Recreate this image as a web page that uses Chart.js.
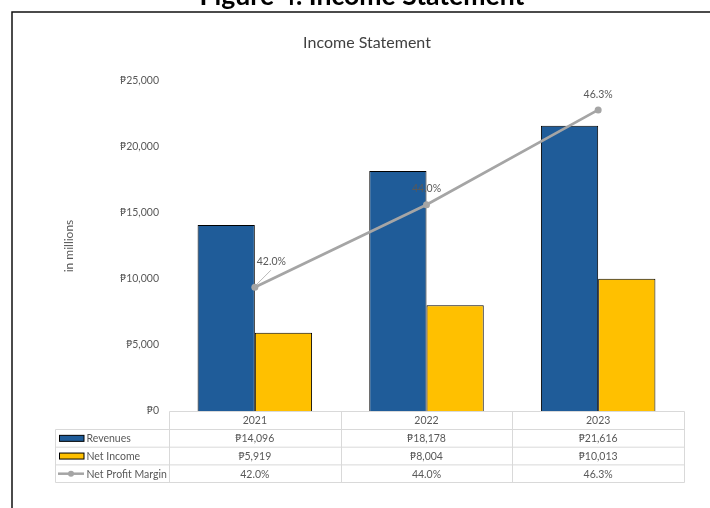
<!DOCTYPE html>
<html>
<head>
<meta charset="utf-8">
<script src="https://cdn.jsdelivr.net/npm/chart.js@4.4.0/dist/chart.umd.min.js"></script>
<style>
html,body{margin:0;padding:0;background:#fff;}
#wrap{width:710px;height:508px;position:relative;overflow:hidden;}
canvas{display:block;}
</style>
</head>
<body>
<div id="wrap"><canvas id="c" width="710" height="508"></canvas></div>
<script>
// ---- data ----
const caption = 'Figure 4. Income Statement';
const chartTitle = 'Income Statement';
const years = ['2021', '2022', '2023'];
const revenues = [14096, 18178, 21616];
const netIncome = [5919, 8004, 10013];
const netProfitMargin = [42.0, 44.0, 46.3];
const yTicks = [0, 5000, 10000, 15000, 20000, 25000];
const seriesNames = ['Revenues', 'Net Income', 'Net Profit Margin'];

// ---- styles ----
const FONT = "Lato, 'Noto Sans', 'DejaVu Sans', sans-serif";
const GRAY = '#595959';
const BLUE = '#1F5C99';
const GOLD = '#FFC000';
const LINEC = '#A5A5A5';
const GRIDC = '#D9D9D9';

const peso = v => '\u20B1' + Number(v).toLocaleString('en-US');
const pct = v => Number(v).toFixed(1) + '%';

Chart.defaults.font.family = FONT;
Chart.defaults.color = GRAY;

const framePlugin = {
  id: 'frame',
  beforeDraw(chart) {
    const ctx = chart.ctx;
    ctx.save();
    ctx.fillStyle = '#fff';
    ctx.fillRect(0, 0, chart.width, chart.height);
    ctx.strokeStyle = '#111';
    ctx.lineWidth = 1.5;
    ctx.beginPath();
    ctx.moveTo(12, chart.height + 5);
    ctx.lineTo(12, 12);
    ctx.lineTo(chart.width + 5, 12);
    ctx.stroke();
    let size = 20;
    ctx.font = `bold ${size}px ${FONT}`;
    const w = ctx.measureText(caption).width;
    size = size * 325 / w;
    ctx.font = `bold ${size}px ${FONT}`;
    ctx.fillStyle = '#000';
    ctx.textAlign = 'center';
    ctx.textBaseline = 'alphabetic';
    ctx.fillText(caption, 362, 5);
    // chart title
    ctx.font = `16px ${FONT}`;
    ctx.fillStyle = '#404040';
    ctx.textBaseline = 'middle';
    ctx.fillText(chartTitle, 367, 42.5);
    ctx.restore();
  }
};

const LABEL_STYLE = [
  {dx: 16.5, dy: -25.5, leader: true},
  {dx: 0, dy: -16, leader: false},
  {dx: 0, dy: -15.5, leader: false}
];

const labelPlugin = {
  id: 'marginLabels',
  afterDatasetsDraw(chart) {
    const ctx = chart.ctx;
    const meta = chart.getDatasetMeta(2);
    ctx.save();
    ctx.font = `10.5px ${FONT}`;
    ctx.fillStyle = GRAY;
    ctx.textAlign = 'center';
    ctx.textBaseline = 'middle';
    meta.data.forEach((pt, i) => {
      const s = LABEL_STYLE[i];
      const tx = pt.x + s.dx, ty = pt.y + s.dy;
      if (s.leader) {
        ctx.strokeStyle = '#A6A6A6';
        ctx.lineWidth = 0.8;
        ctx.beginPath();
        ctx.moveTo(pt.x + 1, pt.y - 2);
        ctx.lineTo(pt.x + 16, pt.y - 17);
        ctx.stroke();
      }
      ctx.fillText(pct(netProfitMargin[i]), tx, ty);
    });
    ctx.restore();
  }
};

const tablePlugin = {
  id: 'dataTable',
  afterDraw(chart) {
    const ctx = chart.ctx;
    const ca = chart.chartArea;
    const x = chart.scales.x;
    const n = years.length;
    const colW = (x.right - x.left) / n;
    const legendLeft = 55.5;
    const top = Math.round(ca.bottom) + 0.5;
    const ys = [top, top + 18, top + 35.7, top + 53.4, top + 71];
    const edges = [];
    for (let i = 0; i < n; i++) edges.push(x.getPixelForValue(i) - colW / 2);
    edges.push(x.getPixelForValue(n - 1) + colW / 2);
    const L = Math.round(ca.left) + 0.5;
    const R = Math.round(edges[n]) + 0.5;
    ctx.save();
    ctx.strokeStyle = GRIDC;
    ctx.lineWidth = 1;
    ctx.beginPath();
    ctx.moveTo(L, ys[0]); ctx.lineTo(R, ys[0]);
    for (let k = 1; k < ys.length; k++) { ctx.moveTo(legendLeft, ys[k]); ctx.lineTo(R, ys[k]); }
    ctx.moveTo(legendLeft, ys[1]); ctx.lineTo(legendLeft, ys[4]);
    edges.forEach(e => { const ex = Math.round(e) + 0.5; ctx.moveTo(ex, ys[0]); ctx.lineTo(ex, ys[4]); });
    ctx.stroke();

    ctx.font = `10.5px ${FONT}`;
    ctx.fillStyle = GRAY;
    ctx.textBaseline = 'middle';
    ctx.textAlign = 'center';
    const rowVals = [
      years,
      revenues.map(peso),
      netIncome.map(peso),
      netProfitMargin.map(pct)
    ];
    rowVals.forEach((vals, r) => {
      const cy = (ys[r] + ys[r + 1]) / 2;
      vals.forEach((v, i) => ctx.fillText(v, x.getPixelForValue(i), cy + 0.5));
    });
    // legend keys
    const ds = chart.data.datasets;
    ctx.textAlign = 'left';
    for (let r = 1; r <= 3; r++) {
      const cy = (ys[r] + ys[r + 1]) / 2;
      const d = ds[r - 1];
      if (d.type === 'line') {
        ctx.strokeStyle = d.borderColor;
        ctx.lineWidth = 2.5;
        ctx.beginPath(); ctx.moveTo(58, cy); ctx.lineTo(84, cy); ctx.stroke();
        ctx.fillStyle = d.borderColor;
        ctx.beginPath(); ctx.arc(71, cy, 3, 0, Math.PI * 2); ctx.fill();
      } else {
        ctx.fillStyle = d.backgroundColor;
        ctx.fillRect(59.5, cy - 3, 24.5, 6);
        ctx.strokeStyle = '#000';
        ctx.lineWidth = 1;
        ctx.strokeRect(59.5, cy - 3, 24.5, 6);
      }
      ctx.fillStyle = GRAY;
      ctx.fillText(seriesNames[r - 1], 86.5, cy + 0.5);
    }
    ctx.restore();
  }
};

new Chart(document.getElementById('c'), {
  data: {
    labels: years,
    datasets: [
      {type: 'bar', label: seriesNames[0], data: revenues, backgroundColor: BLUE, borderColor: '#000', borderWidth: 1,
       yAxisID: 'y', order: 2, categoryPercentage: 0.667, barPercentage: 1},
      {type: 'bar', label: seriesNames[1], data: netIncome, backgroundColor: GOLD, borderColor: '#000', borderWidth: 1,
       yAxisID: 'y', order: 2, categoryPercentage: 0.667, barPercentage: 1},
      {type: 'line', label: seriesNames[2], data: netProfitMargin, borderColor: LINEC, backgroundColor: LINEC,
       borderWidth: 2.75, pointRadius: 3.5, pointBackgroundColor: LINEC, pointBorderWidth: 0, tension: 0,
       yAxisID: 'y2', order: 0}
    ]
  },
  options: {
    responsive: false,
    animation: false,
    devicePixelRatio: 1,
    layout: {padding: {left: 0, right: 26, top: 81, bottom: 97}},
    plugins: {
      legend: {display: false},
      tooltip: {enabled: false},
      title: {display: false}
    },
    scales: {
      x: {type: 'category', display: false, offset: true, grid: {display: false}},
      y: {
        position: 'left', min: 0, max: 25000,
        border: {display: false},
        grid: {display: false, drawTicks: false},
        afterBuildTicks: s => { s.ticks = yTicks.map(v => ({value: v})); },
        ticks: {padding: 10, color: GRAY, font: {size: 10.5}, callback: v => peso(v)},
        title: {display: true, text: 'in millions', color: GRAY, font: {size: 12}, padding: {top: 62, bottom: 0}},
        afterFit: s => { s.width = 169; }
      },
      y2: {display: false, min: 39, max: 47, position: 'right'}
    }
  },
  plugins: [framePlugin, labelPlugin, tablePlugin]
});
</script>
</body>
</html>
